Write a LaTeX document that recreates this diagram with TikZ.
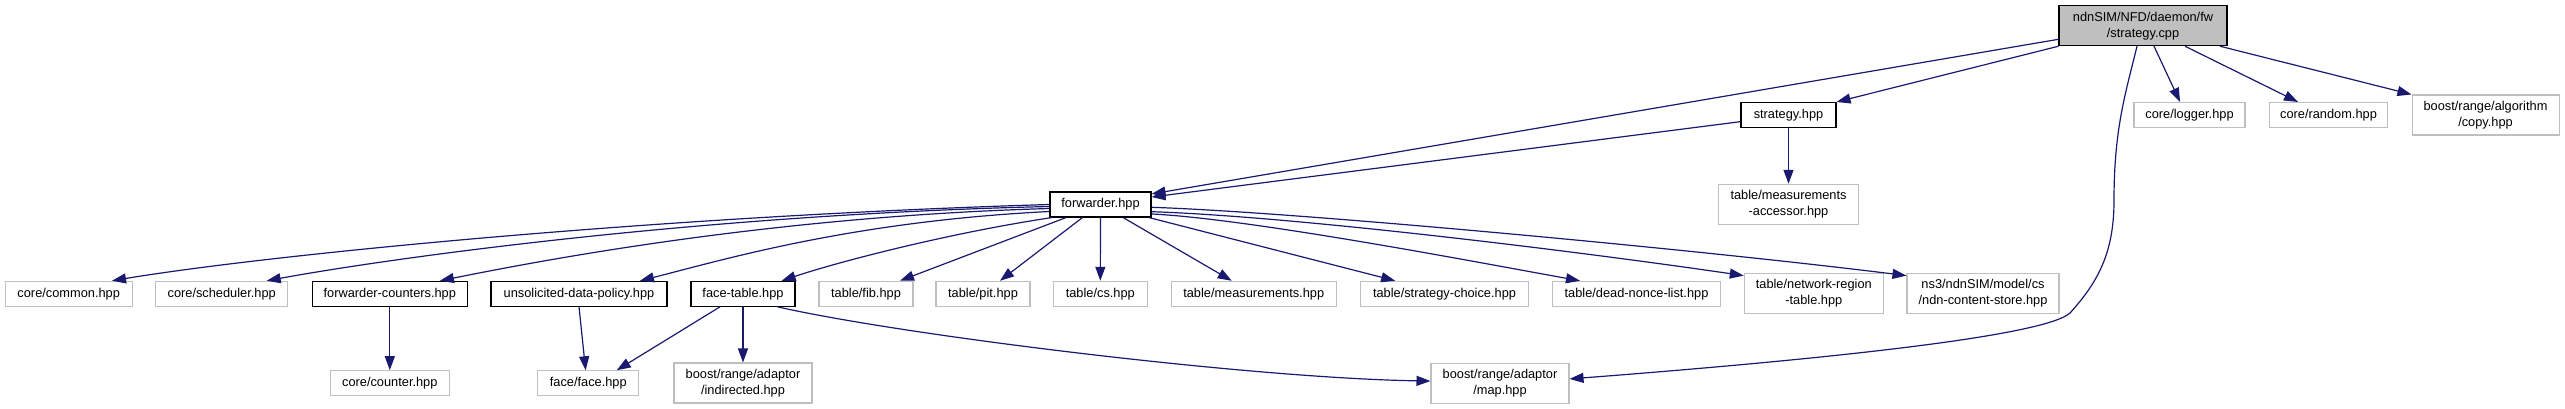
\documentclass[tikz,border=0pt]{standalone}
\usepackage{fontspec}
\setmainfont{Liberation Sans}
\usetikzlibrary{arrows.meta}
\definecolor{edgeblue}{RGB}{25,25,112}
\definecolor{greyfill}{RGB}{191,191,191}
\begin{document}
\begin{tikzpicture}[x=0.75pt,y=-0.75pt,
  nodebox/.style={draw, rectangle, inner sep=0pt, line width=0.8pt, align=center,
    font=\fontsize{9.6}{12}\selectfont, minimum height=18.75pt},
  docbox/.style={nodebox, draw=black},
  extbox/.style={nodebox, draw=greyfill},
  tall/.style={minimum height=30pt},
  edge/.style={draw=edgeblue, line width=0.9pt, -{Triangle[length=10.5pt,width=7.5pt]}}]
\fill[white] (0,0) rectangle (2565,409);
\useasboundingbox (0,0) rectangle (2565,409);

% top level
\node[docbox, fill=greyfill, tall, minimum width=126pt] (cpp) at (2143,25.7) {ndnSIM/NFD/daemon/fw\\/strategy.cpp};
\node[extbox, minimum width=83.25pt] (logger) at (2189.5,115) {core/logger.hpp};
\node[extbox, minimum width=88.5pt] (random) at (2328.5,115) {core/random.hpp};
\node[extbox, tall, minimum width=110.25pt] (copy) at (2485.5,115) {boost/range/algorithm\\/copy.hpp};
\node[docbox, minimum width=71.25pt] (shpp) at (1788.5,115) {strategy.hpp};
\node[extbox, tall, minimum width=105pt] (macc) at (1788.5,204.3) {table/measurements\\-accessor.hpp};
\node[docbox, minimum width=75.75pt] (fwd) at (1100.5,204.5) {forwarder.hpp};

% row of forwarder children
\node[extbox, minimum width=95.25pt] (common) at (68.7,293.8) {core/common.hpp};
\node[extbox, minimum width=99pt] (sched) at (221.7,293.8) {core/scheduler.hpp};
\node[docbox, minimum width=116.25pt] (fcnt) at (389.8,293.8) {forwarder-counters.hpp};
\node[docbox, minimum width=132pt] (udp) at (579,293.8) {unsolicited-data-policy.hpp};
\node[docbox, minimum width=78pt] (ftab) at (743,293.8) {face-table.hpp};
\node[extbox, minimum width=70.5pt] (fib) at (866,293.8) {table/fib.hpp};
\node[extbox, minimum width=70.5pt] (pit) at (983,293.8) {table/pit.hpp};
\node[extbox, minimum width=70.5pt] (cs) at (1100.3,293.8) {table/cs.hpp};
\node[extbox, minimum width=123.75pt] (meas) at (1253.7,293.8) {table/measurements.hpp};
\node[extbox, minimum width=126pt] (sc) at (1444.5,293.8) {table/strategy-choice.hpp};
\node[extbox, minimum width=126pt] (dnl) at (1636.5,293.8) {table/dead-nonce-list.hpp};
\node[extbox, tall, minimum width=104.25pt] (nrt) at (1813.8,293.5) {table/network-region\\-table.hpp};
\node[extbox, tall, minimum width=114pt] (ns3) at (1983,293.5) {ns3/ndnSIM/model/cs\\/ndn-content-store.hpp};

% bottom row
\node[extbox, minimum width=89.25pt] (counter) at (389.8,383.2) {core/counter.hpp};
\node[extbox, minimum width=75.75pt] (face) at (588.3,383.3) {face/face.hpp};
\node[extbox, tall, minimum width=103.5pt] (indir) at (743,383) {boost/range/adaptor\\/indirected.hpp};
\node[extbox, tall, minimum width=103.5pt] (map) at (1500,383.2) {boost/range/adaptor\\/map.hpp};

% edges from strategy.cpp
\draw[edge] ([yshift=-10.2pt]cpp.west) -- ([yshift=7.9pt]fwd.east);
\draw[edge] (cpp.south west) -- (shpp.north east);
\draw[edge] ([xshift=8.25pt]cpp.south) -- ([xshift=-7.1pt]logger.north);
\draw[edge] ([xshift=31.5pt]cpp.south) -- ([xshift=-22.9pt]random.north);
\draw[edge] ([xshift=57.75pt]cpp.south) -- (copy.north west);
\draw[edge] ([xshift=-4.5pt]cpp.south) .. controls (2125,95) and (2114,130) .. (2114,200)
  .. controls (2114,250) and (2100,280) .. (2070,313)
  .. controls (2040,340) and (1750,365) .. ([yshift=3.2pt]map.east);

% strategy.hpp
\draw[edge] ([yshift=-5pt]shpp.west) -- ([yshift=5.6pt]fwd.east);
\draw[edge] (shpp.south) -- (macc.north);

% forwarder.hpp
\draw[edge] (fwd.west) .. controls +(-400,12) and +(150,-25) .. ([xshift=32.5pt]common.north);
\draw[edge] ([yshift=-1.5pt]fwd.west) .. controls +(-350,8) and +(120,-22) .. ([xshift=33.75pt]sched.north);
\draw[edge] ([yshift=-3pt]fwd.west) .. controls +(-280,8) and +(100,-20) .. ([xshift=37.6pt]fcnt.north);
\draw[edge] ([yshift=-5.25pt]fwd.west) .. controls +(-200,10) and +(80,-20) .. ([xshift=45.75pt]udp.north);
\draw[edge] ([xshift=2pt]fwd.south west) .. controls +(-100,15) and +(60,-20) .. ([xshift=29pt]ftab.north);
\draw[edge] ([xshift=12.5pt]fwd.south west) -- ([xshift=25.5pt]fib.north);
\draw[edge] ([xshift=24.75pt]fwd.south west) -- ([xshift=12.75pt]pit.north);
\draw[edge] (fwd.south) -- (cs.north);
\draw[edge] ([xshift=16.9pt]fwd.south) -- ([xshift=-16.5pt]meas.north);
\draw[edge] ([xshift=-2pt]fwd.south east) -- ([xshift=-37pt]sc.north);
\draw[edge] ([yshift=-7.1pt]fwd.east) .. controls +(100,5) and +(-100,-18) .. ([xshift=-42.4pt]dnl.north);
\draw[edge] ([yshift=-5.4pt]fwd.east) .. controls +(150,5) and +(-150,-22) .. ([yshift=-2pt]nrt.north west);
\draw[edge] ([yshift=-2.1pt]fwd.east) .. controls +(150,5) and +(-200,-25) .. ([yshift=-2pt]ns3.north west);

% second level
\draw[edge] (fcnt.south) -- (counter.north);
\draw[edge] (udp.south) -- ([xshift=-2pt]face.north);
\draw[edge] ([xshift=-17.25pt]ftab.south) -- ([xshift=21.3pt]face.north);
\draw[edge] (ftab.south) -- (indir.north);
\draw[edge] ([xshift=-13.5pt]ftab.south east) .. controls +(123,28) and +(-181,-3) .. ([yshift=1.6pt]map.west);
\end{tikzpicture}
\end{document}
